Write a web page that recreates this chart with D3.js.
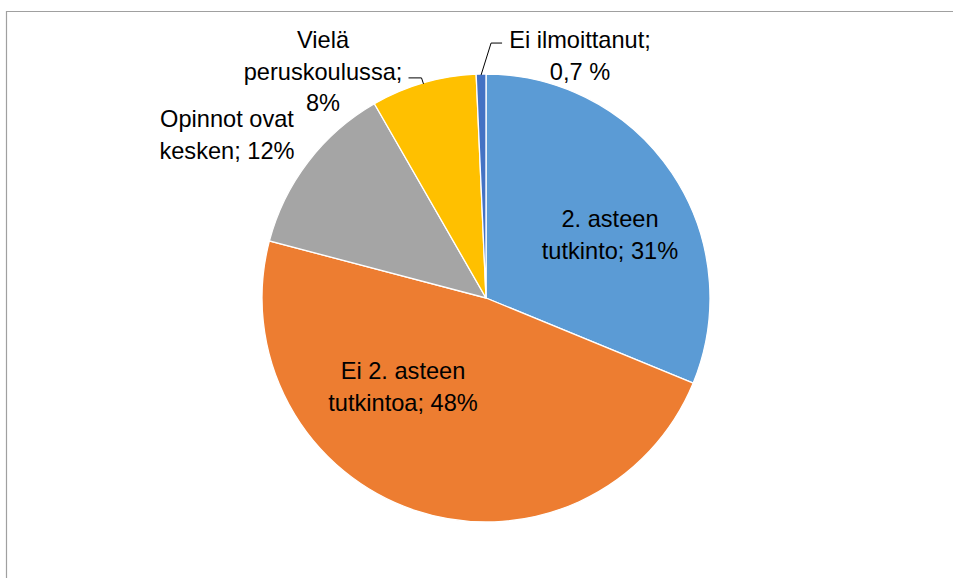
<!DOCTYPE html>
<html>
<head>
<meta charset="utf-8">
<script src="https://d3js.org/d3.v7.min.js"></script>
<style>
  body { margin: 0; background: #fff; }
  svg text { font-family: "Liberation Sans", Arial, sans-serif; font-size: 23.6px; fill: #000; }
</style>
</head>
<body>
<div id="chart"></div>
<script>
// data, clockwise from 12 o'clock
var categories = ["2. asteen tutkinto", "Ei 2. asteen tutkintoa", "Opinnot ovat kesken", "Vielä peruskoulussa", "Ei ilmoittanut"];
var values = [31.2, 47.9, 12.6, 7.6, 0.7];
var labelLines = [
  ["2. asteen", "tutkinto; 31%"],
  ["Ei 2. asteen", "tutkintoa; 48%"],
  ["Opinnot ovat", "kesken; 12%"],
  ["Vielä", "peruskoulussa;", "8%"],
  ["Ei ilmoittanut;", "0,7 %"]
];
var colors = ["#5b9bd5", "#ed7d31", "#a5a5a5", "#ffc000", "#4472c4"];

var width = 953, height = 578;
var cx = 486, cy = 298, radius = 224;
var lineH = 31.5;

// label anchor (centre x, first baseline) relative to the pie centre
var labelPos = [
  {dx: 124, dy: -71},
  {dx: -83, dy: 81},
  {dx: -259, dy: -171},
  {dx: -163, dy: -250},
  {dx: 94, dy: -250}
];

var svg = d3.select("#chart").append("svg")
    .attr("width", width)
    .attr("height", height);

// chart frame (only top and left edges are inside the picture)
svg.append("path")
    .attr("d", "M6.5," + height + "V11.5H" + width)
    .attr("fill", "none")
    .attr("stroke", "#a0a0a0")
    .attr("stroke-width", 1.2);

var g = svg.append("g").attr("transform", "translate(" + cx + "," + cy + ")");

var pie = d3.pie().sort(null).value(function(d) { return d; });
var arc = d3.arc().innerRadius(0).outerRadius(radius);
var arcs = pie(values);

g.selectAll("path.slice")
    .data(arcs)
    .enter()
    .append("path")
    .attr("class", "slice")
    .attr("d", arc)
    .attr("fill", function(d, i) { return colors[i]; })
    .attr("stroke", "#fff")
    .attr("stroke-width", 1.3);

// leader lines for the two small slices
function edgePoint(d, frac) {
  var a = d.startAngle + (d.endAngle - d.startAngle) * frac;
  return [Math.sin(a) * radius, -Math.cos(a) * radius];
}
var p3 = edgePoint(arcs[3], 0.5);
g.append("path")
    .attr("d", "M" + (p3[0] - 15) + "," + (p3[1] - 5) + "H" + (p3[0] - 2) + "L" + p3[0] + "," + (p3[1] + 1))
    .attr("fill", "none").attr("stroke", "#000").attr("stroke-width", 1);
var p4 = edgePoint(arcs[4], 0.5);
g.append("path")
    .attr("d", "M" + (p4[0] + 21) + "," + (p4[1] - 31) + "H" + (p4[0] + 10) + "L" + p4[0] + "," + (p4[1] + 1))
    .attr("fill", "none").attr("stroke", "#000").attr("stroke-width", 1);

var labels = g.selectAll("text.lbl")
    .data(labelLines)
    .enter()
    .append("text")
    .attr("class", "lbl")
    .attr("text-anchor", "middle")
    .attr("transform", function(d, i) { return "translate(" + labelPos[i].dx + "," + labelPos[i].dy + ")"; });

labels.selectAll("tspan")
    .data(function(d) { return d; })
    .enter()
    .append("tspan")
    .attr("x", 0)
    .attr("y", function(d, i) { return i * lineH; })
    .text(function(d) { return d; });
</script>
</body>
</html>
